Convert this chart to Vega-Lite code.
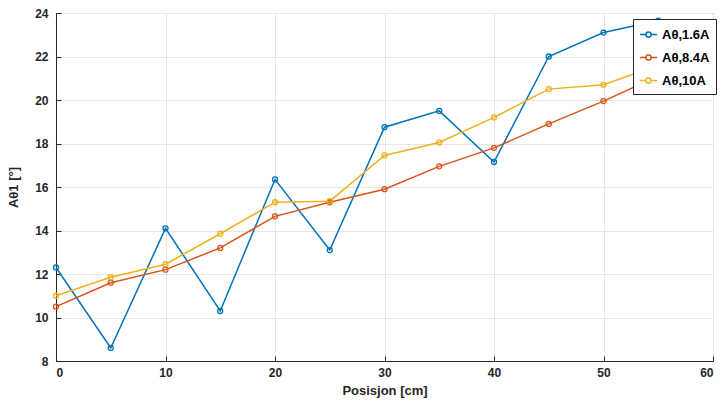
{
  "$schema": "https://vega.github.io/schema/vega-lite/v6.json",
  "autosize": "none",
  "width": 657,
  "height": 348,
  "padding": {"left": 56, "top": 13, "right": 8, "bottom": 46},
  "background": "white",
  "config": {
    "font": "Liberation Sans",
    "view": {"stroke": "#262626", "strokeWidth": 1},
    "axis": {
      "labelFont": "Liberation Sans", "labelFontWeight": "bold", "labelFontSize": 12, "labelColor": "#262626",
      "titleFont": "Liberation Sans", "titleFontWeight": "bold", "titleFontSize": 13, "titleColor": "#262626",
      "domainColor": "#262626", "tickColor": "#262626", "tickSize": -5,
      "gridColor": "#e6e6e6", "gridWidth": 1
    }
  },
  "data": {"values": [
    {"x": 0, "y": 12.3, "s": "Aθ,1.6A"}, {"x": 5, "y": 8.6, "s": "Aθ,1.6A"}, {"x": 10, "y": 14.1, "s": "Aθ,1.6A"},
    {"x": 15, "y": 10.3, "s": "Aθ,1.6A"}, {"x": 20, "y": 16.35, "s": "Aθ,1.6A"}, {"x": 25, "y": 13.1, "s": "Aθ,1.6A"},
    {"x": 30, "y": 18.75, "s": "Aθ,1.6A"}, {"x": 35, "y": 19.5, "s": "Aθ,1.6A"}, {"x": 40, "y": 17.15, "s": "Aθ,1.6A"},
    {"x": 45, "y": 22.0, "s": "Aθ,1.6A"}, {"x": 50, "y": 23.1, "s": "Aθ,1.6A"}, {"x": 55, "y": 23.65, "s": "Aθ,1.6A"},
    {"x": 60, "y": 22.9, "s": "Aθ,1.6A"},
    {"x": 0, "y": 10.5, "s": "Aθ,8.4A"}, {"x": 5, "y": 11.6, "s": "Aθ,8.4A"}, {"x": 10, "y": 12.2, "s": "Aθ,8.4A"},
    {"x": 15, "y": 13.2, "s": "Aθ,8.4A"}, {"x": 20, "y": 14.65, "s": "Aθ,8.4A"}, {"x": 25, "y": 15.3, "s": "Aθ,8.4A"},
    {"x": 30, "y": 15.9, "s": "Aθ,8.4A"}, {"x": 35, "y": 16.95, "s": "Aθ,8.4A"}, {"x": 40, "y": 17.8, "s": "Aθ,8.4A"},
    {"x": 45, "y": 18.9, "s": "Aθ,8.4A"}, {"x": 50, "y": 19.95, "s": "Aθ,8.4A"}, {"x": 55, "y": 21.1, "s": "Aθ,8.4A"},
    {"x": 60, "y": 21.55, "s": "Aθ,8.4A"},
    {"x": 0, "y": 11.0, "s": "Aθ,10A"}, {"x": 5, "y": 11.85, "s": "Aθ,10A"}, {"x": 10, "y": 12.45, "s": "Aθ,10A"},
    {"x": 15, "y": 13.85, "s": "Aθ,10A"}, {"x": 20, "y": 15.3, "s": "Aθ,10A"}, {"x": 25, "y": 15.35, "s": "Aθ,10A"},
    {"x": 30, "y": 17.45, "s": "Aθ,10A"}, {"x": 35, "y": 18.05, "s": "Aθ,10A"}, {"x": 40, "y": 19.2, "s": "Aθ,10A"},
    {"x": 45, "y": 20.5, "s": "Aθ,10A"}, {"x": 50, "y": 20.7, "s": "Aθ,10A"}, {"x": 55, "y": 21.6, "s": "Aθ,10A"},
    {"x": 60, "y": 22.15, "s": "Aθ,10A"}
  ]},
  "encoding": {
    "x": {"field": "x", "type": "quantitative", "title": "Posisjon [cm]",
      "scale": {"domain": [0, 60], "nice": false, "zero": false},
      "axis": {"values": [0, 10, 20, 30, 40, 50, 60], "titlePadding": 6, "labelPadding": 11}},
    "y": {"field": "y", "type": "quantitative", "title": "Aθ1 [°]",
      "scale": {"domain": [8, 24], "nice": false, "zero": false},
      "axis": {"values": [8, 10, 12, 14, 16, 18, 20, 22, 24], "titlePadding": 14, "labelPadding": 13}},
    "color": {"field": "s", "type": "nominal", "sort": ["Aθ,1.6A", "Aθ,8.4A", "Aθ,10A"],
      "scale": {"domain": ["Aθ,1.6A", "Aθ,8.4A", "Aθ,10A"], "range": ["#0072BD", "#D95319", "#EDB120"]},
      "legend": {"title": null, "orient": "none", "legendX": 577, "legendY": 6,
        "fillColor": "white", "strokeColor": "#262626", "padding": 6,
        "symbolType": "M-1,0L-0.3,0M0.3,0L1,0M-0.3,0A0.3,0.3 0 1,0 0.3,0A0.3,0.3 0 1,0 -0.3,0",
        "symbolSize": 300, "symbolStrokeWidth": 1.5, "symbolFillColor": "transparent",
        "labelFont": "Liberation Sans", "labelFontWeight": "bold", "labelFontSize": 13, "labelColor": "#000000",
        "rowPadding": 6, "labelOffset": 4}}
  },
  "layer": [
    {"mark": {"type": "line", "strokeWidth": 1.5}},
    {"mark": {"type": "point", "filled": false, "size": 25, "strokeWidth": 1.3, "opacity": 1}}
  ]
}
